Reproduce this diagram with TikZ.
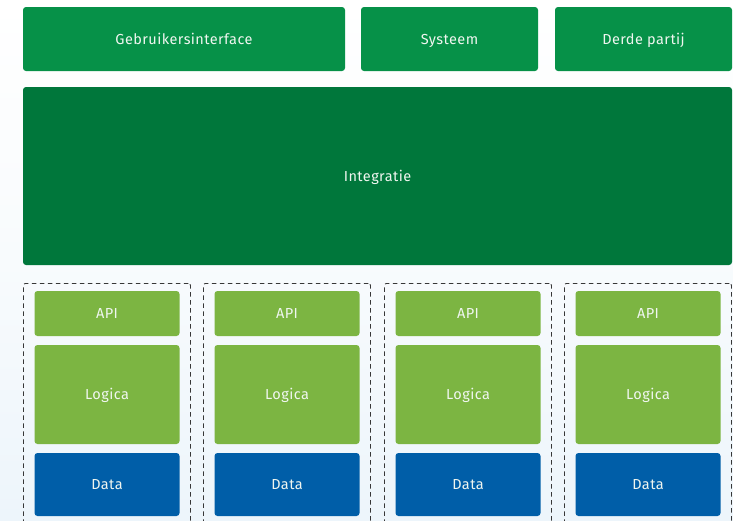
\documentclass[tikz,border=0pt]{standalone}
\usepackage{fontspec}
\setmainfont[LetterSpace=3]{Fira Sans}
\definecolor{topgreen}{RGB}{6,145,72}
\definecolor{intgreen}{RGB}{0,119,59}
\definecolor{lightgreen}{RGB}{124,181,66}
\definecolor{datablue}{RGB}{0,94,168}
\definecolor{bgbottom}{RGB}{237,245,251}
\definecolor{txt}{RGB}{240,246,240}
\begin{document}
\begin{tikzpicture}[x=1pt,y=-1pt,
  blk/.style={rounded corners=3pt,inner sep=0pt,text=txt,font=\fontsize{14.5}{16}\selectfont,anchor=center,text height=10.5pt,text depth=-1.5pt},
  topbox/.style={blk,fill=topgreen},
  intbox/.style={blk,fill=intgreen},
  apibox/.style={blk,fill=lightgreen,minimum width=145pt,minimum height=45pt},
  logbox/.style={blk,fill=lightgreen,minimum width=145pt,minimum height=99pt},
  databox/.style={blk,fill=datablue,minimum width=145pt,minimum height=63pt},
  colbox/.style={draw={rgb,255:red,55;green,55;blue,55},line width=0.9pt,dash pattern=on 4.5pt off 3.5pt,rounded corners=2pt,inner sep=0pt,minimum width=167pt,minimum height=250pt,anchor=north west}
]
\useasboundingbox (0,0) rectangle (733,520);
\clip (0,0) rectangle (733,520);
\shade[top color=white,bottom color=bgbottom,middle color={rgb,255:red,248;green,251;blue,253}] (0,0) rectangle (733,520);
\node[topbox,minimum width=322pt,minimum height=64pt] (gui) at (184,39) {Gebruikersinterface};
\node[topbox,minimum width=177pt,minimum height=64pt] (sys) at (449.5,39) {Systeem};
\node[topbox,minimum width=177pt,minimum height=64pt] (derde) at (643.5,39) {Derde partij};
\node[intbox,minimum width=709pt,minimum height=178pt] (int) at (377.5,176) {Integratie};
\foreach \i/\x in {1/23,2/203,3/384,4/564}{
  \node[colbox] (col\i) at (\x,283) {};
  \node[apibox] (api\i) at (\x+84,313.5) {API};
  \node[logbox] (log\i) at (\x+84,394.5) {Logica};
  \node[databox] (data\i) at (\x+84,484.5) {Data};
}
\end{tikzpicture}
\end{document}
